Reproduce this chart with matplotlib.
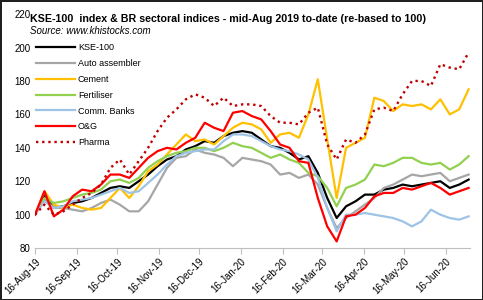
import matplotlib
matplotlib.use("Agg")
import matplotlib.pyplot as plt
import pandas as pd

plt.rcParams['font.family'] = ['Liberation Sans', 'DejaVu Sans']

dates = pd.date_range('2019-08-16', periods=47, freq='7D')

kse100 = [100, 111, 104, 105, 107, 108, 110, 113, 116, 117, 116, 120, 124, 129, 133, 135,
          139, 141, 144, 143, 147, 149, 150, 149, 145, 141, 140, 137, 133, 135, 125, 110,
          98, 105, 108, 112, 112, 115, 116, 118, 117, 118, 119, 120, 116, 118, 121]
auto = [100, 109, 104, 104, 103, 102, 104, 107, 109, 106, 102, 102, 108, 118, 128, 134,
        135, 139, 137, 136, 134, 129, 134, 133, 132, 130, 124, 125, 122, 124, 118, 104,
        92, 98, 102, 106, 110, 116, 118, 121, 124, 123, 124, 125, 120, 122, 124]
cement = [100, 114, 106, 104, 106, 104, 103, 104, 110, 116, 110, 117, 126, 130, 136, 142,
          148, 144, 145, 142, 147, 152, 155, 154, 151, 143, 148, 149, 146, 160, 181, 145,
          110, 140, 143, 146, 170, 168, 162, 166, 165, 166, 163, 169, 160, 163, 175]
fertiliser = [100, 110, 107, 108, 110, 112, 113, 115, 120, 121, 119, 122, 128, 132, 135, 137,
              138, 140, 140, 138, 140, 143, 141, 140, 137, 134, 136, 133, 131, 125, 123, 116,
              105, 116, 118, 121, 130, 129, 131, 134, 134, 131, 130, 131, 127, 130, 135]
banks = [100, 108, 104, 105, 108, 109, 110, 112, 114, 116, 113, 114, 119, 124, 130, 135,
         137, 138, 139, 139, 144, 148, 148, 147, 144, 141, 139, 138, 136, 133, 122, 104,
         90, 100, 100, 101, 100, 99, 98, 96, 93, 96, 103, 100, 98, 97, 99]
oil_gas = [100, 114, 99, 103, 111, 115, 114, 118, 124, 124, 122, 128, 134, 138, 140, 139,
           143, 146, 155, 152, 150, 161, 162, 159, 157, 150, 142, 140, 132, 131, 110, 93,
           84, 99, 100, 104, 111, 113, 113, 116, 115, 117, 119, 116, 112, 114, 116]
pharma = [100, 106, 100, 102, 106, 110, 113, 118, 128, 133, 124, 132, 140, 150, 158, 163,
          169, 172, 170, 165, 170, 165, 166, 166, 165, 159, 155, 155, 154, 161, 164, 142,
          133, 145, 143, 148, 163, 164, 162, 172, 180, 180, 177, 190, 188, 187, 197]

tick_labels = ['16-Aug-19', '16-Sep-19', '16-Oct-19', '16-Nov-19', '16-Dec-19', '16-Jan-20',
               '16-Feb-20', '16-Mar-20', '16-Apr-20', '16-May-20', '16-Jun-20']

series = [
    ("KSE-100", kse100, '#000000', '-'),
    ("Auto assembler", auto, '#A6A6A6', '-'),
    ("Cement", cement, '#FFC000', '-'),
    ("Fertiliser", fertiliser, '#92D050', '-'),
    ("Comm. Banks", banks, '#9DC3E6', '-'),
    ("O&G", oil_gas, '#FF0000', '-'),
    ("Pharma", pharma, '#C00000', ':'),
]

tick_dates = [pd.to_datetime(t, format='%d-%b-%y') for t in tick_labels]

fig = plt.figure(figsize=(4.83, 3.0), dpi=100, linewidth=2, edgecolor='#202020')
ax = fig.add_axes([0.0725, 0.173, 0.9005, 0.78])

for name, vals, col, ls in series:
    if ls == ':':
        ax.plot(dates, vals, color=col, lw=1.7, linestyle=(0, (1, 1.6)), label=name)
    else:
        ax.plot(dates, vals, color=col, lw=1.6, label=name)

ax.set_ylim(80, 220)
ax.set_yticks(range(80, 221, 20))
ax.set_xlim(pd.Timestamp('2019-08-16'), pd.Timestamp('2020-07-04'))
ax.set_xticks(tick_dates)
ax.set_xticklabels(tick_labels, rotation=45, ha='right', rotation_mode='anchor', fontsize=7)
ax.tick_params(axis='y', length=0, labelsize=7, pad=3)
ax.tick_params(axis='x', length=4, color='#BFBFBF', width=0.8, pad=2)
for s in ['top', 'right', 'left']:
    ax.spines[s].set_visible(False)
ax.spines['bottom'].set_color('#BFBFBF')
ax.spines['bottom'].set_linewidth(0.8)

ax.legend(loc='upper left', bbox_to_anchor=(-0.005, 0.89), frameon=False,
          fontsize=6.5, handlelength=4.3, handletextpad=0.3, labelspacing=0.75,
          borderaxespad=0)

fig.text(0.062, 0.935, "KSE-100  index & BR sectoral indices - mid-Aug 2019 to-date (re-based to 100)",
         fontsize=7.7, fontweight='bold', ha='left', va='center')
fig.text(0.062, 0.895, "Source: www.khistocks.com", fontsize=7, style='italic',
         ha='left', va='center')

fig.savefig('out.png', dpi=100)
